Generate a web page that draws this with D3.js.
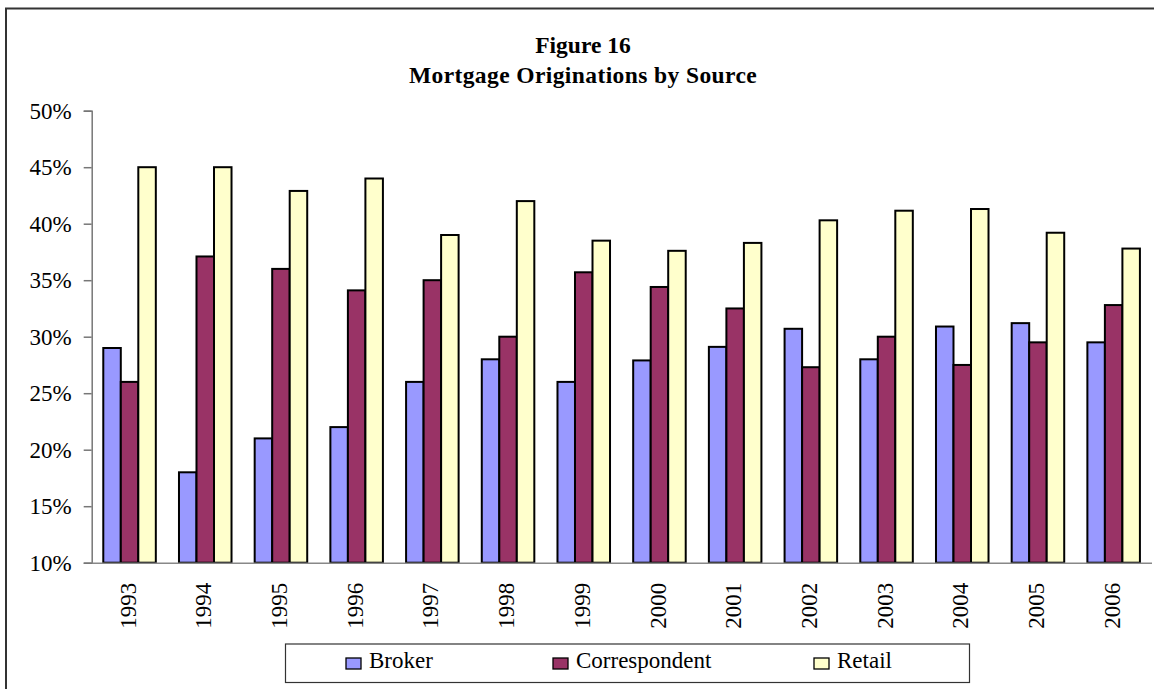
<!DOCTYPE html>
<html><head><meta charset="utf-8">
<script src="https://cdn.jsdelivr.net/npm/d3@7"></script>
<style>body{margin:0;background:#fff}svg{display:block}</style>
</head><body>
<svg id="c" width="1154" height="689"></svg>
<script>
const years = ["1993","1994","1995","1996","1997","1998","1999","2000","2001","2002","2003","2004","2005","2006"];
const broker = [29, 18, 21, 22, 26, 28, 26, 27.9, 29.1, 30.7, 28, 30.9, 31.2, 29.5];
const correspondent = [26, 37.1, 36, 34.1, 35, 30, 35.7, 34.4, 32.5, 27.3, 30, 27.5, 29.5, 32.8];
const retail = [45, 45, 42.9, 44, 39, 42, 38.5, 37.6, 38.3, 40.3, 41.15, 41.3, 39.2, 37.8];
const seriesNames = ["Broker","Correspondent","Retail"];
const seriesColors = ["#9999FF","#993366","#FFFFCC"];
const yTicks = [10,15,20,25,30,35,40,45,50];

const series = [broker, correspondent, retail];
const svg = d3.select("#c");
const FF = '"Liberation Serif"';
function serif(sel, size, bold){
  sel.style("font-family", FF).style("font-size", size+"px");
  if (bold) sel.style("font-weight","bold");
  return sel;
}

// frame
svg.append("path").attr("d","M6,689 L6,8.5 L1154,8.5").attr("fill","none").attr("stroke","#333").attr("stroke-width",2);

const L=91.7, R=1151.5, T=110.7, B=562.7;
const x = d3.scaleBand().domain(years).range([L,R]).paddingInner(0.306).paddingOuter(0.153);
const xs = d3.scaleBand().domain(seriesNames).range([0,x.bandwidth()]);
const y = d3.scaleLinear().domain([10,50]).range([B,T]);

// title
serif(svg.append("text").attr("x",583).attr("y",53).attr("text-anchor","middle"),23.5,true).text("Figure 16");
serif(svg.append("text").attr("x",583).attr("y",83).attr("text-anchor","middle"),23.5,true)
  .style("letter-spacing","0.4px").text("Mortgage Originations by Source");

// bars
const g = svg.append("g");
seriesNames.forEach((s,si)=>{
  g.selectAll(null).data(years).enter().append("rect")
    .attr("x",d=>x(d)+xs(s))
    .attr("width",xs.bandwidth())
    .attr("y",(d,i)=>y(series[si][i]))
    .attr("height",(d,i)=>B-y(series[si][i]))
    .attr("fill",seriesColors[si]).attr("stroke","#000").attr("stroke-width",2);
});

// y axis
const ya = svg.append("g").attr("transform",`translate(${L},0)`)
  .call(d3.axisLeft(y).tickValues(yTicks).tickSize(8).tickPadding(12).tickFormat(d=>d+"%"));
ya.attr("font-family",null).attr("font-size",null);
ya.select(".domain").attr("stroke","#777").attr("stroke-width",1.5);
ya.selectAll(".tick line").attr("stroke","#777").attr("stroke-width",1.5);
serif(ya.selectAll("text"),23).attr("fill","#000");

// x axis
const xa = svg.append("g").attr("transform",`translate(0,${B})`)
  .call(d3.axisBottom(x).tickSize(0).tickPadding(0));
xa.attr("font-family",null).attr("font-size",null);
xa.select(".domain").attr("stroke","#888").attr("stroke-width",1.5);
serif(xa.selectAll("text"),23).attr("fill","#000")
  .attr("transform","rotate(-90)").attr("text-anchor","end").attr("dy","0.35em").attr("x",-20).attr("y",-2);

// legend
svg.append("rect").attr("x",285.5).attr("y",644).attr("width",684).attr("height",38.5)
  .attr("fill","#fff").attr("stroke","#333").attr("stroke-width",1.2);
const legX = [346, 553, 814];
seriesNames.forEach((s,i)=>{
  svg.append("rect").attr("x",legX[i]).attr("y",658).attr("width",15).attr("height",11)
    .attr("fill",seriesColors[i]).attr("stroke","#000").attr("stroke-width",1.3);
  serif(svg.append("text").attr("x",legX[i]+23).attr("y",667.5),23).text(s);
});
</script>
</body></html>
